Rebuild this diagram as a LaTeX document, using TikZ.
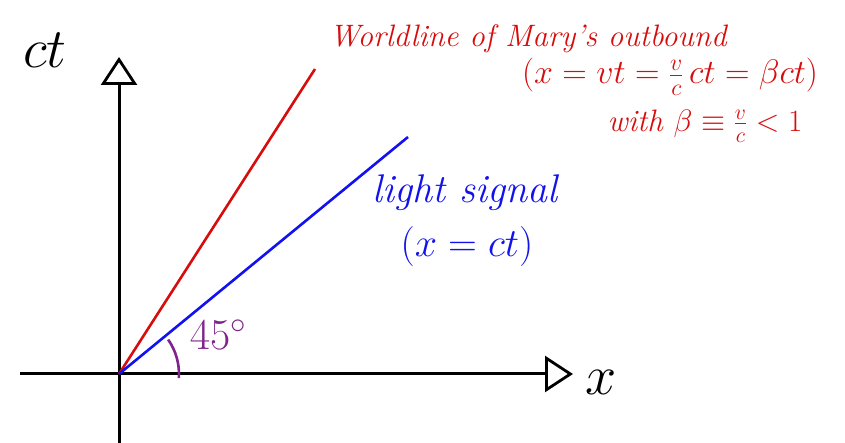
\RequirePackage{fix-cm}
\documentclass[tikz,border=0pt]{standalone}
\usepackage{amsmath}
\usetikzlibrary{arrows.meta}
\definecolor{wlred}{RGB}{215,12,12}
\definecolor{sigblue}{RGB}{18,18,238}
\definecolor{angpurple}{RGB}{128,36,140}

\begin{document}
\begin{tikzpicture}[
    x=1pt, y=1pt,
    every node/.style={inner sep=0pt},
    axis/.style={line width=3pt, -{Triangle[open, length=28pt, width=36pt, line width=2.8pt]}},
    axlabel/.style={font=\fontsize{56}{60}\selectfont},
    world/.style={wlred, line width=2.6pt},
    signal/.style={sigblue, line width=2.6pt},
    redtext/.style={wlred, font=\fontsize{31}{34}\selectfont\itshape},
    bluetext/.style={sigblue, font=\fontsize{40}{44}\selectfont\itshape},
    angtext/.style={angpurple, font=\fontsize{44}{48}\selectfont}
]
\useasboundingbox (0,0) rectangle (845,443);

% Axes
\coordinate (O) at (119,69);
\coordinate (xstart) at (20,69);
\coordinate (xend) at (573,69);
\coordinate (ystart) at (119,0);
\coordinate (yend) at (119,386);
\draw[axis] (xstart) -- (xend);
\draw[axis] (ystart) -- (yend);
\node[axlabel] (ctlab) at (45,393) {$ct$};
\node[axlabel] (xlab) at (601,61) {$x$};

% Worldline (red)
\coordinate (mary) at (315,374);
\draw[world] (O) -- (mary);
\node[redtext] (wl1) at (528,404) {Worldline of Mary's outbound};
\node[redtext, font=\fontsize{34}{38}\selectfont] (wl2) at (670,366) {$(x = vt = \tfrac{v}{c}\,ct = \beta ct)$};
\node[redtext] (wl3) at (705,317) {with $\beta \equiv \tfrac{v}{c} < 1$};

% Light signal (blue)
\coordinate (light) at (408,306);
\draw[signal] (O) -- (light);
\node[bluetext] (ls1) at (465,250) {light signal};
\node[bluetext] (ls2) at (467,196) {$(x = ct)$};

% Angle
\draw[angpurple, line width=2.6pt] (O) ++(-4:60) arc[start angle=-4, end angle=35, radius=60];
\node[angtext] (ang) at (218,108) {$45^\circ$};
\end{tikzpicture}
\end{document}
